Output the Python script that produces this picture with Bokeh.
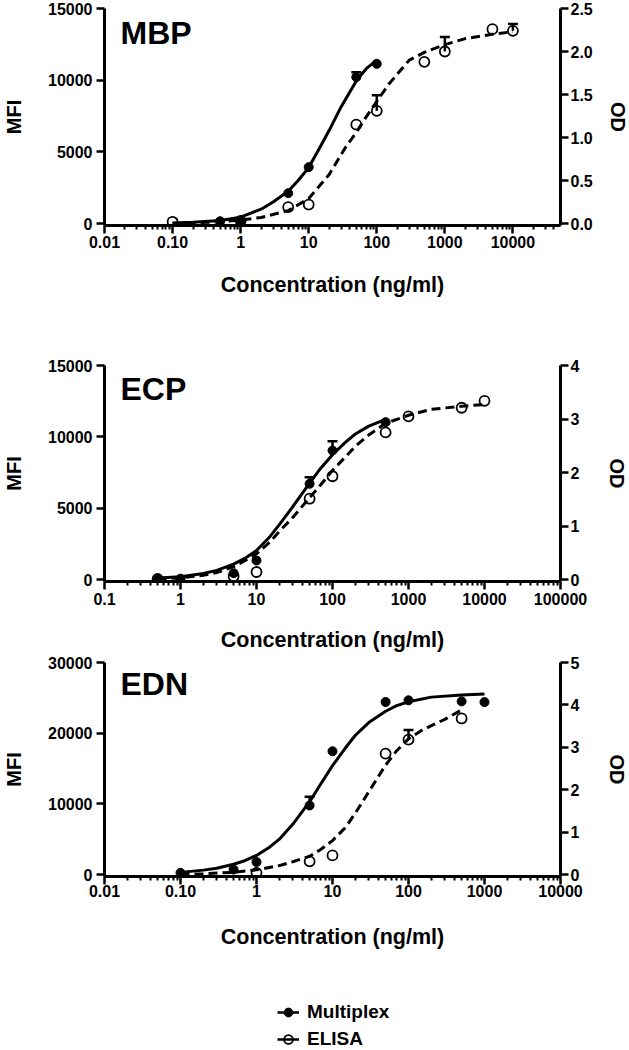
import math
from bokeh.plotting import figure
from bokeh.models import Range1d, LinearAxis, FixedTicker, Label, Legend, LegendItem
from bokeh.layouts import column
from bokeh.embed import file_html
from bokeh.resources import INLINE

FONT = "Liberation Sans"

# ---------------- data: MBP ----------------
mbp_mplex_x = [0.5, 1, 5, 10, 50, 100]
mbp_mplex_y = [160, 170, 2115, 3930, 10210, 11140]
mbp_mplex_err_x = [50]
mbp_mplex_err_top = [10560]
mbp_elisa_x = [0.1, 1, 5, 10, 50, 100, 500, 1000, 5000, 10000]
mbp_elisa_y = [0.02, 0.03, 0.19, 0.22, 1.15, 1.31, 1.88, 2.00, 2.26, 2.24]
mbp_elisa_err_x = [100, 1000, 10000]
mbp_elisa_err_top = [1.49, 2.17, 2.32]
mbp_mplex_fit_x = [0.1, 0.2, 0.5, 1, 2, 3, 5, 7, 10, 15, 20, 30, 50, 70, 100]
mbp_mplex_fit_y = [40, 80, 210, 440, 1000, 1500, 2250, 3000, 3900, 5400, 6500, 8150, 9950, 10800, 11400]
mbp_elisa_fit_x = [0.1, 0.5, 1, 2, 5, 10, 20, 35, 50, 70, 100, 150, 300, 500, 1000, 2000, 5000, 10000]
mbp_elisa_fit_y = [0.00, 0.02, 0.04, 0.07, 0.15, 0.29, 0.57, 0.89, 1.06, 1.24, 1.42, 1.62, 1.90, 1.99, 2.08, 2.15, 2.20, 2.23]
mbp_x_ticks = [0.01, 0.1, 1, 10, 100, 1000, 10000]
mbp_x_labels = ["0.01", "0.10", "1", "10", "100", "1000", "10000"]
mbp_y_ticks = [0, 5000, 10000, 15000]
mbp_y_labels = ["0", "5000", "10000", "15000"]
mbp_od_ticks = [0, 0.5, 1.0, 1.5, 2.0, 2.5]
mbp_od_labels = ["0.0", "0.5", "1.0", "1.5", "2.0", "2.5"]

# ---------------- data: ECP ----------------
ecp_mplex_x = [0.5, 1, 5, 10, 50, 100, 500]
ecp_mplex_y = [30, 60, 444, 1330, 6710, 9040, 11030]
ecp_mplex_err_x = [50, 100]
ecp_mplex_err_top = [7170, 9690]
ecp_elisa_x = [0.5, 5, 10, 50, 100, 500, 1000, 5000, 10000]
ecp_elisa_y = [0.01, 0.06, 0.14, 1.51, 1.93, 2.75, 3.05, 3.21, 3.34]
ecp_elisa_err_x = []
ecp_elisa_err_top = []
ecp_mplex_fit_x = [0.5, 1, 2, 3, 5, 7, 10, 15, 20, 30, 50, 70, 100, 150, 200, 300, 500]
ecp_mplex_fit_y = [100, 200, 420, 640, 1080, 1480, 2030, 3000, 3850, 5100, 6750, 7800, 8750, 9650, 10200, 10750, 11230]
ecp_elisa_fit_x = [0.5, 1, 2, 3, 5, 7, 10, 15, 20, 30, 50, 70, 100, 150, 200, 300, 500, 1000, 2000, 5000, 10000]
ecp_elisa_fit_y = [0.01, 0.03, 0.08, 0.13, 0.24, 0.35, 0.48, 0.70, 0.90, 1.16, 1.53, 1.77, 2.04, 2.30, 2.49, 2.70, 2.92, 3.07, 3.18, 3.24, 3.27]
ecp_x_ticks = [0.1, 1, 10, 100, 1000, 10000, 100000]
ecp_x_labels = ["0.1", "1", "10", "100", "1000", "10000", "100000"]
ecp_y_ticks = [0, 5000, 10000, 15000]
ecp_y_labels = ["0", "5000", "10000", "15000"]
ecp_od_ticks = [0, 1, 2, 3, 4]
ecp_od_labels = ["0", "1", "2", "3", "4"]

# ---------------- data: EDN ----------------
edn_mplex_x = [0.1, 0.5, 1, 5, 10, 50, 100, 500, 1000]
edn_mplex_y = [230, 700, 1770, 9770, 17440, 24410, 24650, 24500, 24400]
edn_mplex_err_x = [5]
edn_mplex_err_top = [11020]
edn_elisa_x = [1, 5, 10, 50, 100, 500]
edn_elisa_y = [0.04, 0.31, 0.45, 2.85, 3.18, 3.68]
edn_elisa_err_x = [100]
edn_elisa_err_top = [3.41]
edn_mplex_fit_x = [0.1, 0.2, 0.3, 0.5, 0.7, 1, 1.5, 2, 3, 5, 7, 10, 15, 20, 30, 50, 70, 100, 200, 500, 1000]
edn_mplex_fit_y = [300, 620, 880, 1450, 1950, 2700, 3900, 5000, 7100, 10300, 12800, 15400, 18000, 19700, 21500, 23100, 23900, 24450, 25100, 25400, 25550]
edn_elisa_fit_x = [0.1, 0.2, 0.5, 1, 2, 3, 5, 7, 10, 15, 20, 30, 50, 70, 100, 150, 200, 300, 500]
edn_elisa_fit_y = [0.0, 0.02, 0.05, 0.11, 0.21, 0.30, 0.43, 0.59, 0.80, 1.12, 1.45, 1.95, 2.58, 2.92, 3.20, 3.40, 3.51, 3.66, 3.88]
edn_x_ticks = [0.01, 0.1, 1, 10, 100, 1000, 10000]
edn_x_labels = ["0.01", "0.10", "1", "10", "100", "1000", "10000"]
edn_y_ticks = [0, 10000, 20000, 30000]
edn_y_labels = ["0", "10000", "20000", "30000"]
edn_od_ticks = [0, 1, 2, 3, 4, 5]
edn_od_labels = ["0", "1", "2", "3", "4", "5"]

series_labels = ["Multiplex", "ELISA"]

LEFT, FRAME_W, RIGHT = 102, 456, 71


def minor_ticks(lo, hi):
    out = []
    d = math.floor(math.log10(lo))
    while 10.0 ** d < hi:
        for k in range(2, 10):
            v = k * 10.0 ** d
            if lo < v < hi:
                out.append(v)
        d += 1
    return out


def style_axis(ax, label_standoff, axis_label_standoff):
    ax.axis_line_width = 3
    ax.axis_line_color = "black"
    ax.major_tick_line_width = 2.5
    ax.major_tick_line_color = "black"
    ax.major_tick_out = 8
    ax.major_tick_in = 0
    ax.minor_tick_line_width = 2
    ax.minor_tick_line_color = "black"
    ax.minor_tick_out = 4
    ax.minor_tick_in = 0
    ax.major_label_text_font = FONT
    ax.major_label_text_font_size = "16px"
    ax.major_label_text_font_style = "bold"
    ax.major_label_text_color = "black"
    ax.major_label_standoff = label_standoff
    ax.axis_label_text_font = FONT
    ax.axis_label_text_font_style = "bold"
    ax.axis_label_text_color = "black"
    ax.axis_label_standoff = axis_label_standoff


def panel(name, x_lo, x_hi, x_ticks, x_labels, y_ticks, y_labels, od_ticks, od_labels,
          mx, my, mex, metop, ex, ey, eex, eetop, mfx, mfy, efx, efy,
          frame_h, top, bottom, x_tick_standoff, x_label_standoff, od_standoff):
    gap_px = 2
    y_top = y_ticks[-1]
    od_top = od_ticks[-1]
    y_lo = -gap_px / (frame_h - gap_px) * y_top
    od_lo = -gap_px / (frame_h - gap_px) * od_top
    p = figure(frame_width=FRAME_W, frame_height=frame_h, x_axis_type="log",
               x_range=Range1d(x_lo, x_hi), y_range=Range1d(y_lo, y_top),
               output_backend="svg", toolbar_location=None,
               min_border_left=LEFT, min_border_right=RIGHT,
               min_border_top=top, min_border_bottom=bottom,
               outline_line_color=None, background_fill_color="white",
               border_fill_color="white")
    p.grid.visible = False
    p.extra_y_ranges = {"od": Range1d(od_lo, od_top)}

    xa = p.xaxis[0]
    xa.ticker = FixedTicker(ticks=x_ticks, minor_ticks=minor_ticks(x_lo, x_hi))
    xa.major_label_overrides = dict(zip(x_ticks, x_labels))
    xa.axis_label = "Concentration (ng/ml)"
    xa.axis_label_text_font_size = "21.5px"
    style_axis(xa, x_tick_standoff, x_label_standoff)

    ya = p.yaxis[0]
    ya.ticker = FixedTicker(ticks=y_ticks)
    ya.major_label_overrides = dict(zip(y_ticks, y_labels))
    ya.axis_label = "MFI"
    ya.axis_label_text_font_size = "20px"
    style_axis(ya, 4, 20)

    ra = LinearAxis(y_range_name="od", axis_label="OD",
                    ticker=FixedTicker(ticks=od_ticks))
    ra.major_label_overrides = dict(zip(od_ticks, od_labels))
    ra.axis_label_text_font_size = "20px"
    style_axis(ra, 2, od_standoff)
    p.add_layout(ra, "right")

    # fitted curves
    p.line(mfx, mfy, line_color="black", line_width=3, line_join="round")
    p.line(efx, efy, line_color="black", line_width=3, line_dash="9 5",
           y_range_name="od")

    # error bars (mean + SD)
    mbase = [my[mx.index(v)] for v in mex]
    ebase = [ey[ex.index(v)] for v in eex]
    p.segment(x0=mex, y0=mbase, x1=mex, y1=metop, line_color="black", line_width=2.5)
    p.scatter(mex, metop, marker="dash", size=10, line_color="black", line_width=2.5)
    p.segment(x0=eex, y0=ebase, x1=eex, y1=eetop, line_color="black", line_width=2.5,
              y_range_name="od")
    p.scatter(eex, eetop, marker="dash", size=10, line_color="black", line_width=2.5,
              y_range_name="od")

    # points
    p.scatter(mx, my, marker="circle", size=9, fill_color="black",
              line_color="black", line_width=1)
    p.scatter(ex, ey, marker="circle", size=10, fill_alpha=0,
              line_color="black", line_width=1.8, y_range_name="od")

    p.add_layout(Label(x=16, y=193, x_units="screen", y_units="screen", text=name,
                       text_font=FONT, text_font_size="32px", text_font_style="bold",
                       text_color="black", text_baseline="alphabetic"))
    return p


p1 = panel("MBP", 0.01, 50000, mbp_x_ticks, mbp_x_labels, mbp_y_ticks, mbp_y_labels,
           mbp_od_ticks, mbp_od_labels,
           mbp_mplex_x, mbp_mplex_y, mbp_mplex_err_x, mbp_mplex_err_top,
           mbp_elisa_x, mbp_elisa_y, mbp_elisa_err_x, mbp_elisa_err_top,
           mbp_mplex_fit_x, mbp_mplex_fit_y, mbp_elisa_fit_x, mbp_elisa_fit_y,
           frame_h=217, top=8, bottom=75, x_tick_standoff=2, x_label_standoff=22,
           od_standoff=11)

p2 = panel("ECP", 0.1, 100000, ecp_x_ticks, ecp_x_labels, ecp_y_ticks, ecp_y_labels,
           ecp_od_ticks, ecp_od_labels,
           ecp_mplex_x, ecp_mplex_y, ecp_mplex_err_x, ecp_mplex_err_top,
           ecp_elisa_x, ecp_elisa_y, ecp_elisa_err_x, ecp_elisa_err_top,
           ecp_mplex_fit_x, ecp_mplex_fit_y, ecp_elisa_fit_x, ecp_elisa_fit_y,
           frame_h=216, top=65, bottom=69, x_tick_standoff=3, x_label_standoff=20,
           od_standoff=24)

p3 = panel("EDN", 0.01, 10000, edn_x_ticks, edn_x_labels, edn_y_ticks, edn_y_labels,
           edn_od_ticks, edn_od_labels,
           edn_mplex_x, edn_mplex_y, edn_mplex_err_x, edn_mplex_err_top,
           edn_elisa_x, edn_elisa_y, edn_elisa_err_x, edn_elisa_err_top,
           edn_mplex_fit_x, edn_mplex_fit_y, edn_elisa_fit_x, edn_elisa_fit_y,
           frame_h=214, top=8, bottom=73, x_tick_standoff=0, x_label_standoff=25,
           od_standoff=24)

# ---------------- legend strip ----------------
lp = figure(frame_width=FRAME_W, frame_height=105, x_range=Range1d(0, 1), y_range=Range1d(0, 1),
            output_backend="svg", toolbar_location=None, outline_line_color=None,
            min_border_left=LEFT, min_border_right=RIGHT,
            min_border_top=0, min_border_bottom=0)
lp.axis.visible = False
lp.grid.visible = False
# key samples only (placed outside the visible range)
k_ml = lp.line([-2, -1], [-2, -1], line_color="black", line_width=2.5)
k_mp = lp.scatter([-1], [-1], marker="circle", fill_color="black", line_color="black", line_width=1)
k_el = lp.line([-2, -1], [-2, -1], line_color="black", line_width=2.5)
k_ep = lp.scatter([-1], [-1], marker="circle", fill_alpha=0, line_color="black", line_width=1.8)
legend = Legend(items=[LegendItem(label=series_labels[0], renderers=[k_ml, k_mp]),
                       LegendItem(label=series_labels[1], renderers=[k_el, k_ep])],
                location=(173, 5), orientation="vertical",
                label_text_font=FONT, label_text_font_size="19px",
                label_text_font_style="bold", label_text_color="black",
                glyph_width=22, glyph_height=24, label_height=20, spacing=3,
                padding=0, margin=0, label_standoff=8,
                border_line_color=None, background_fill_alpha=0)
lp.add_layout(legend)

layout = column(p1, p2, p3, lp, spacing=0)
open("out.html", "w").write(file_html(layout, INLINE))
